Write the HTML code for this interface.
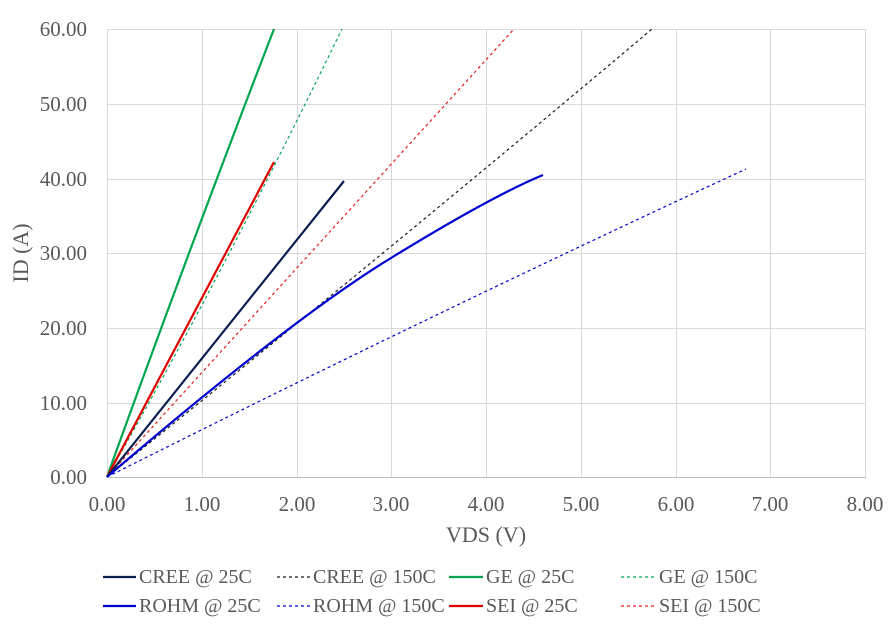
<!DOCTYPE html>
<html><head><meta charset="utf-8"><style>body{margin:0;background:#fff} svg text{font-family:"Liberation Serif",serif}</style></head><body>
<svg width="893" height="619" xmlns="http://www.w3.org/2000/svg" style="font-family:'Liberation Serif',serif" fill="#595959">
<rect width="893" height="619" fill="#fff"/>
<g stroke="#d9d9d9" stroke-width="1">
<line x1="107" y1="29.5" x2="866" y2="29.5"/><line x1="107" y1="104.5" x2="866" y2="104.5"/><line x1="107" y1="179.5" x2="866" y2="179.5"/><line x1="107" y1="253.5" x2="866" y2="253.5"/><line x1="107" y1="328.5" x2="866" y2="328.5"/><line x1="107" y1="403.5" x2="866" y2="403.5"/>
<line x1="107.5" y1="29" x2="107.5" y2="477"/><line x1="202.5" y1="29" x2="202.5" y2="477"/><line x1="297.5" y1="29" x2="297.5" y2="477"/><line x1="391.5" y1="29" x2="391.5" y2="477"/><line x1="486.5" y1="29" x2="486.5" y2="477"/><line x1="581.5" y1="29" x2="581.5" y2="477"/><line x1="676.5" y1="29" x2="676.5" y2="477"/><line x1="770.5" y1="29" x2="770.5" y2="477"/><line x1="865.5" y1="29" x2="865.5" y2="477"/>
</g>
<line x1="107" y1="477.5" x2="866" y2="477.5" stroke="#bfbfbf"/>
<g fill="none" stroke-width="1.2" stroke-dasharray="3,3">
<path d="M107,477 Q220,280 342,29" stroke="#00a550"/>
<path d="M107,477 L514,29" stroke="#e31b1b"/>
<path d="M107,477 Q390,250 652,29" stroke="#1a1a1a"/>
<path d="M107,477 Q430,315 746,169" stroke="#0000d0"/>
</g>
<g fill="none" stroke-width="2.2">
<path d="M107,477 Q185,260 274,29" stroke="#00a550"/>
<path d="M107,477 L274,162" stroke="#e00000"/>
<path d="M107,477 L344,181" stroke="#0c2050"/>
<path d="M107,477 Q290,320 391,258 T543,175" stroke="#0000d0"/>
</g>
<g font-size="21" text-anchor="end">
<text x="87" y="36">60.00</text><text x="87" y="111">50.00</text><text x="87" y="186">40.00</text><text x="87" y="260">30.00</text><text x="87" y="335">20.00</text><text x="87" y="410">10.00</text><text x="87" y="484">0.00</text>
</g>
<g font-size="21" text-anchor="middle">
<text x="107" y="511">0.00</text><text x="202" y="511">1.00</text><text x="297" y="511">2.00</text><text x="391" y="511">3.00</text><text x="486" y="511">4.00</text><text x="581" y="511">5.00</text><text x="676" y="511">6.00</text><text x="770" y="511">7.00</text><text x="865" y="511">8.00</text>
<text x="486" y="542" font-size="22">VDS (V)</text>
<text transform="translate(28,253) rotate(-90)" font-size="22">ID (A)</text>
</g>
<g font-size="20">
<line x1="103" y1="577" x2="136" y2="577" stroke="#0c2050" stroke-width="2.2"/><text x="139" y="583">CREE @ 25C</text>
<line x1="277" y1="577" x2="310" y2="577" stroke="#1a1a1a" stroke-width="1.2" stroke-dasharray="3,3"/><text x="313" y="583">CREE @ 150C</text>
<line x1="449" y1="577" x2="483" y2="577" stroke="#00a550" stroke-width="2.2"/><text x="486" y="583">GE @ 25C</text>
<line x1="621" y1="577" x2="655" y2="577" stroke="#00a550" stroke-width="1.2" stroke-dasharray="3,3"/><text x="659" y="583">GE @ 150C</text>
<line x1="103" y1="606" x2="136" y2="606" stroke="#0000d0" stroke-width="2.2"/><text x="139" y="612">ROHM @ 25C</text>
<line x1="277" y1="606" x2="310" y2="606" stroke="#0000d0" stroke-width="1.2" stroke-dasharray="3,3"/><text x="313" y="612">ROHM @ 150C</text>
<line x1="449" y1="606" x2="483" y2="606" stroke="#e00000" stroke-width="2.2"/><text x="486" y="612">SEI @ 25C</text>
<line x1="621" y1="606" x2="655" y2="606" stroke="#e31b1b" stroke-width="1.2" stroke-dasharray="3,3"/><text x="659" y="612">SEI @ 150C</text>
</g>
</svg>
</body></html>
